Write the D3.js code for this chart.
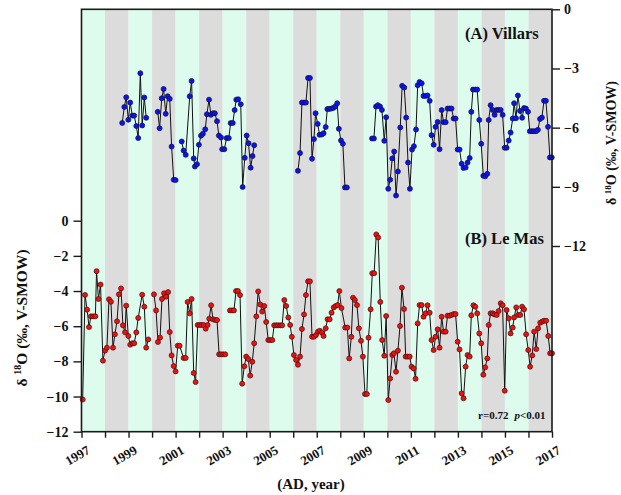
<!DOCTYPE html>
<html>
<head>
<meta charset="utf-8">
<script src="https://cdn.jsdelivr.net/npm/d3@7/dist/d3.min.js"></script>
<style>
  body { margin: 0; background: #fff; }
  svg { display: block; }
  text { font-family: "Liberation Serif", "Times New Roman", serif; font-weight: bold; fill: #111; }
</style>
</head>
<body>
<svg id="chart" width="621" height="495"></svg>
<script>
// Monthly δ18O of precipitation (‰, V-SMOW); null marks a break in the record.
const villarsYear = [
  1998.73,1998.82,1998.90,1998.99,1999.07,1999.16,1999.24,1999.33,1999.41,1999.50,1999.58,1999.67,1999.75,
  null,
  2000.24,2000.32,2000.41,2000.49,2000.58,2000.66,2000.75,2000.83,2000.92,2001.00,
  null,
  2001.26,2001.34,2001.43,2001.60,2001.68,2001.77,2001.82,2001.91,2001.99,2002.08,2002.16,2002.26,2002.33,
  2002.42,2002.50,2002.59,2002.67,2002.76,2002.84,2002.93,2002.98,2003.07,2003.17,2003.26,2003.34,2003.43,
  2003.51,2003.58,2003.66,2003.77,2003.85,2003.94,2004.02,2004.10,2004.19,2004.27,2004.34,
  null,
  2006.20,2006.29,2006.37,2006.46,2006.54,2006.63,2006.71,2006.80,2006.88,2006.95,2007.04,2007.12,2007.21,
  2007.29,2007.38,2007.45,2007.53,2007.62,2007.70,2007.79,2007.87,2007.94,2008.03,2008.11,2008.20,2008.28,
  null,
  2009.35,2009.43,2009.52,2009.60,2009.69,2009.77,2009.87,2009.95,2010.04,2010.12,2010.21,2010.29,2010.37,
  2010.45,2010.55,2010.63,2010.72,2010.80,2010.88,2010.96,2011.05,2011.13,2011.22,2011.29,2011.37,2011.46,
  2011.54,2011.63,2011.71,2011.80,2011.88,2011.97,2012.05,2012.14,2012.22,2012.31,2012.39,2012.48,2012.56,
  2012.65,2012.73,2012.82,2012.90,2012.99,2013.07,2013.16,2013.24,2013.33,2013.41,2013.50,2013.57,2013.64,
  2013.74,2013.82,2013.91,2013.99,2014.08,2014.16,2014.25,2014.31,2014.39,2014.48,2014.56,2014.65,2014.73,
  2014.82,2014.90,2014.99,2015.07,2015.16,2015.24,2015.33,2015.39,2015.47,2015.55,2015.64,2015.73,2015.81,
  2015.89,2015.98,2016.06,2016.15,2016.23,2016.32,2016.40,2016.49,2016.57,2016.66,2016.74,2016.83,2016.91,2016.99
];
const villarsD18O = [
  -5.76,-4.95,-4.46,-5.60,-4.73,-5.39,-5.39,-5.92,-6.53,-3.24,-5.89,-4.47,-5.50,
  null,
  -5.20,-6.03,-4.51,-4.04,-5.30,-4.41,-4.54,-6.96,-8.64,-8.66,
  null,
  -6.70,-7.16,-7.38,-4.41,-3.63,-7.56,-7.97,-7.85,-6.87,-6.41,-6.31,-6.08,-5.32,
  -4.58,-5.35,-5.27,-5.27,-5.67,-6.40,-6.50,-7.09,-7.09,-6.53,-6.53,-5.77,-5.76,
  -5.11,-4.58,-4.56,-4.81,-9.01,-7.53,-6.40,-6.79,-8.03,-7.44,-6.89,
  null,
  -8.19,-7.29,-4.73,-4.73,-4.73,-3.48,-3.48,-7.58,-6.58,-5.27,-5.81,-6.36,-6.35,
  -6.28,-5.97,-5.06,-5.05,-5.03,-5.00,-4.93,-4.76,-6.06,-6.65,-6.82,-9.03,-9.03,
  null,
  -6.55,-6.55,-4.93,-4.86,-4.93,-5.10,-6.67,-5.47,-9.10,-8.64,-7.56,-7.21,-9.44,
  -8.22,-5.99,-3.88,-3.97,-5.49,-7.77,-9.10,-7.11,-6.94,-6.10,-3.85,-3.68,-3.75,
  -4.39,-4.39,-4.37,-4.64,-6.38,-6.87,-5.96,-5.71,-7.09,-5.11,-5.72,-5.72,-5.03,
  -5.03,-5.03,-5.54,-5.54,-7.11,-7.11,-7.83,-8.04,-8.02,-7.77,-7.54,-5.20,-4.07,
  -4.07,-4.07,-5.61,-6.82,-8.44,-8.47,-8.34,-5.61,-4.86,-5.10,-5.35,-5.10,-5.10,
  -5.10,-5.35,-7.02,-7.02,-6.65,-6.25,-5.54,-4.76,-5.52,-4.37,-5.15,-5.50,-5.01,
  -5.03,-5.20,-6.18,-6.18,-6.18,-6.18,-6.11,-5.56,-5.49,-4.64,-4.64,-5.96,-7.51,-7.51
];

const leMasYear = [
  1997.05,1997.15,1997.24,1997.32,1997.40,1997.50,1997.59,1997.64,1997.72,1997.81,1997.91,1998.00,1998.08,
  1998.17,1998.25,1998.34,1998.42,1998.51,1998.59,1998.68,1998.76,1998.85,1998.90,1998.99,1999.07,1999.16,
  1999.24,1999.33,1999.41,1999.58,1999.67,1999.75,1999.84,
  null,
  2000.08,2000.17,2000.25,2000.34,2000.42,2000.51,2000.59,2000.68,2000.75,2000.83,2000.92,2001.00,2001.09,
  2001.17,2001.34,2001.43,2001.51,2001.60,2001.68,2001.77,2001.85,2001.94,2002.02,2002.11,2002.19,2002.28,
  2002.36,2002.43,2002.51,2002.59,2002.68,2002.76,2002.85,2002.93,2003.02,2003.11,
  null,
  2003.31,2003.40,2003.48,2003.57,2003.65,2003.74,2003.83,2003.92,2004.00,2004.09,2004.17,2004.26,2004.34,
  2004.43,2004.51,2004.60,2004.68,2004.77,2004.85,2004.94,2005.02,2005.11,2005.19,2005.28,2005.36,2005.45,
  2005.53,2005.62,2005.70,2005.79,2005.87,2005.94,2006.03,2006.12,2006.20,2006.29,2006.37,2006.46,2006.54,
  2006.63,2006.71,2006.80,2006.88,2006.97,2007.05,2007.13,2007.22,2007.29,2007.38,2007.46,2007.55,2007.63,
  2007.72,2007.80,2007.89,2007.96,2008.05,2008.21,2008.30,2008.38,2008.47,2008.54,2008.62,2008.71,2008.79,
  2008.88,2008.96,2009.05,2009.13,2009.20,2009.29,2009.36,2009.44,2009.53,2009.61,2009.70,2009.78,2009.87,
  2009.95,2010.04,2010.12,2010.21,2010.28,2010.37,2010.45,2010.54,2010.62,2010.71,2010.78,2010.86,2010.95,
  2011.03,2011.12,2011.20,2011.29,2011.37,2011.46,2011.54,2011.63,2011.71,2011.80,2011.88,2011.97,2012.05,
  2012.14,2012.22,2012.31,2012.39,2012.48,2012.56,2012.65,2012.73,2012.82,2012.90,2012.99,2013.07,2013.16,
  2013.24,2013.33,2013.41,2013.50,2013.57,2013.66,2013.74,2013.82,2013.91,2013.99,2014.08,2014.16,2014.25,
  2014.31,2014.39,2014.48,2014.56,2014.65,2014.73,2014.82,2014.90,2014.99,2015.07,2015.16,2015.24,2015.33,
  2015.39,2015.48,2015.56,2015.65,2015.73,2015.81,2015.90,2015.99,2016.07,2016.16,2016.24,2016.33,2016.41,
  2016.50,2016.58,2016.66,2016.75,2016.84,2016.92,2017.00
];
const leMasD18O = [
  -10.17,-4.22,-5.06,-6.05,-5.44,-5.44,-5.44,-2.87,-4.45,-3.63,-7.96,-7.39,-7.22,
  -4.47,-4.61,-7.22,-6.46,-5.72,-4.19,-3.85,-5.95,-6.35,-4.83,-6.56,-7.05,-6.97,
  -6.97,-6.35,-5.53,-4.21,-4.89,-7.22,-6.75,
  null,
  -4.19,-5.10,-6.90,-6.65,-4.45,-4.13,-4.32,-4.06,-6.33,-7.66,-8.27,-8.57,-7.11,
  -7.11,-7.81,-7.81,-4.62,-5.27,-4.45,-8.66,-9.18,-5.93,-5.93,-5.93,-5.93,-6.14,
  -5.93,-5.57,-4.81,-5.61,-5.65,-5.65,-7.60,-7.60,-7.60,-7.60,
  null,
  -5.10,-5.10,-5.10,-4.00,-4.00,-4.23,-9.27,-8.28,-7.73,-7.87,-8.81,-8.02,-6.97,
  -5.44,-4.02,-4.76,-5.17,-4.85,-5.76,-6.79,-6.79,-6.79,-5.95,-5.95,-5.95,-5.95,
  -5.95,-4.51,-4.85,-5.50,-5.93,-6.60,-7.64,-7.92,-8.19,-7.73,-6.16,-5.33,-4.23,
  -3.45,-3.45,-6.60,-6.60,-6.50,-6.31,-6.26,-6.37,-6.56,-6.12,-5.61,-5.61,-5.23,
  -4.93,-4.85,-4.80,-4.00,-4.97,-6.08,-6.08,-7.83,-6.60,-4.38,-4.51,-4.80,-6.12,
  -6.83,-7.73,-9.86,-9.86,-6.65,-5.04,-2.99,-2.99,-0.78,-0.95,-4.62,-6.79,-7.68,
  -5.42,-10.20,-8.97,-7.64,-7.54,-8.59,-7.39,-5.99,-3.81,-5.02,-7.73,-7.73,-7.73,
  -8.30,-8.40,-8.99,-5.84,-4.80,-4.80,-5.46,-5.27,-4.81,-5.23,-6.79,-7.36,-6.60,
  -6.18,-7.22,-5.46,-6.31,-6.31,-5.40,-5.40,-5.36,-5.31,-5.31,-6.88,-7.32,-9.82,
  -10.10,-8.30,-7.64,-7.73,-5.38,-4.81,-4.89,-5.27,-6.41,-6.97,-8.76,-8.34,-7.83,
  -5.93,-5.27,-5.27,-5.33,-5.36,-5.14,-4.70,-4.81,-9.67,-5.08,-5.55,-6.41,-6.08,
  -5.50,-4.93,-5.36,-5.36,-4.89,-5.04,-6.46,-7.36,-8.30,-7.66,-6.31,-7.30,-6.12,
  -5.80,-5.74,-5.69,-5.69,-6.56,-7.54,-7.54
];

const yearTicks = d3.range(1997, 2018);
const yearLabels = ["1997","1999","2001","2003","2005","2007","2009","2011","2013","2015","2017"];
const leftTicks = [0, -2, -4, -6, -8, -10, -12];
const rightTicks = [0, -3, -6, -9, -12];

const svg = d3.select("#chart");

const x = d3.scaleLinear().domain([1997, 2017]).range([81.5, 552]);
const yLeft = d3.scaleLinear().domain([-12, 0]).range([431.7, 220.7]);
const yRight = d3.scaleLinear().domain([-12, 0]).range([246, 9.3]);

const plotTop = yRight(0), plotBottom = yLeft(-12);

// alternating yearly background bands
svg.append("g").selectAll("rect")
  .data(d3.range(1997, 2017))
  .join("rect")
  .attr("x", d => x(d))
  .attr("y", plotTop)
  .attr("width", d => x(d + 1) - x(d))
  .attr("height", plotBottom - plotTop)
  .attr("fill", d => d % 2 === 1 ? "#ddfcee" : "#dcdcdc");

function toPoints(years, vals) {
  return years.map((t, i) => ({ t, v: vals[i] }));
}

function drawSeries(pts, yScale, fill, stroke) {
  const line = d3.line()
    .defined(d => d.v !== null)
    .x(d => x(d.t))
    .y(d => yScale(d.v));
  svg.append("path")
    .datum(pts)
    .attr("d", line)
    .attr("fill", "none")
    .attr("stroke", "#111")
    .attr("stroke-width", 1);
  svg.append("g").selectAll("circle")
    .data(pts.filter(d => d.v !== null))
    .join("circle")
    .attr("cx", d => x(d.t))
    .attr("cy", d => yScale(d.v))
    .attr("r", 2.5)
    .attr("fill", fill)
    .attr("stroke", stroke)
    .attr("stroke-width", 0.7);
}

drawSeries(toPoints(villarsYear, villarsD18O), yRight, "#0a14f0", "#101040");
drawSeries(toPoints(leMasYear, leMasD18O), yLeft, "#f01010", "#401010");

// frame
svg.append("rect")
  .attr("x", x(1997)).attr("y", plotTop)
  .attr("width", x(2017) - x(1997)).attr("height", plotBottom - plotTop)
  .attr("fill", "none").attr("stroke", "#1a1a1a").attr("stroke-width", 1.6);

function styleAxis(g) {
  g.select(".domain").remove();
  g.selectAll(".tick line").attr("stroke", "#1a1a1a").attr("stroke-width", 1.4);
  g.selectAll(".tick text").attr("fill", "#111").attr("font-size", 14)
    .attr("font-family", "'Liberation Serif', 'Times New Roman', serif").attr("font-weight", "bold");
}

svg.append("g")
  .attr("transform", `translate(${x(1997)},0)`)
  .call(d3.axisLeft(yLeft).tickValues(leftTicks).tickSize(8).tickPadding(5).tickFormat(d3.format("d")))
  .call(styleAxis);

svg.append("g")
  .attr("transform", `translate(${x(2017)},0)`)
  .call(d3.axisRight(yRight).tickValues(rightTicks).tickSize(8).tickPadding(4).tickFormat(d3.format("d")))
  .call(styleAxis);

const xAxis = svg.append("g")
  .attr("transform", `translate(0,${plotBottom})`)
  .call(d3.axisBottom(x).tickValues(yearTicks).tickSize(6)
    .tickFormat(d => yearLabels.includes(String(d)) ? String(d) : ""))
  .call(styleAxis);
xAxis.selectAll(".tick text")
  .attr("font-size", 13)
  .attr("text-anchor", "end")
  .attr("dy", null)
  .attr("y", null)
  .attr("transform", "translate(9,21) rotate(-30)");

// axis titles
const titleL = svg.append("text")
  .attr("transform", "translate(27,318) rotate(-90)")
  .attr("text-anchor", "middle").attr("font-size", 15.5);
titleL.append("tspan").text("δ ");
titleL.append("tspan").text("18").attr("font-size", 10).attr("dy", -6);
titleL.append("tspan").text("O (‰, V-SMOW)").attr("dy", 6);

const titleR = svg.append("text")
  .attr("transform", "translate(616,143) rotate(-90)")
  .attr("text-anchor", "middle").attr("font-size", 14);
titleR.append("tspan").text("δ ");
titleR.append("tspan").text("18").attr("font-size", 9).attr("dy", -5);
titleR.append("tspan").text("O (‰, V-SMOW)").attr("dy", 5);

svg.append("text")
  .attr("x", 311).attr("y", 489)
  .attr("text-anchor", "middle").attr("font-size", 15)
  .text("(AD, year)");

// panel labels
svg.append("text").attr("x", 465).attr("y", 39).attr("font-size", 16.5).text("(A) Villars");
svg.append("text").attr("x", 465).attr("y", 244).attr("font-size", 16.5).text("(B) Le Mas");

const stat = svg.append("text").attr("x", 478).attr("y", 419).attr("font-size", 11);
stat.append("tspan").text("r=0.72");
stat.append("tspan").text("p").attr("font-style", "italic").attr("dx", 6);
stat.append("tspan").text("<0.01");
</script>
</body>
</html>
